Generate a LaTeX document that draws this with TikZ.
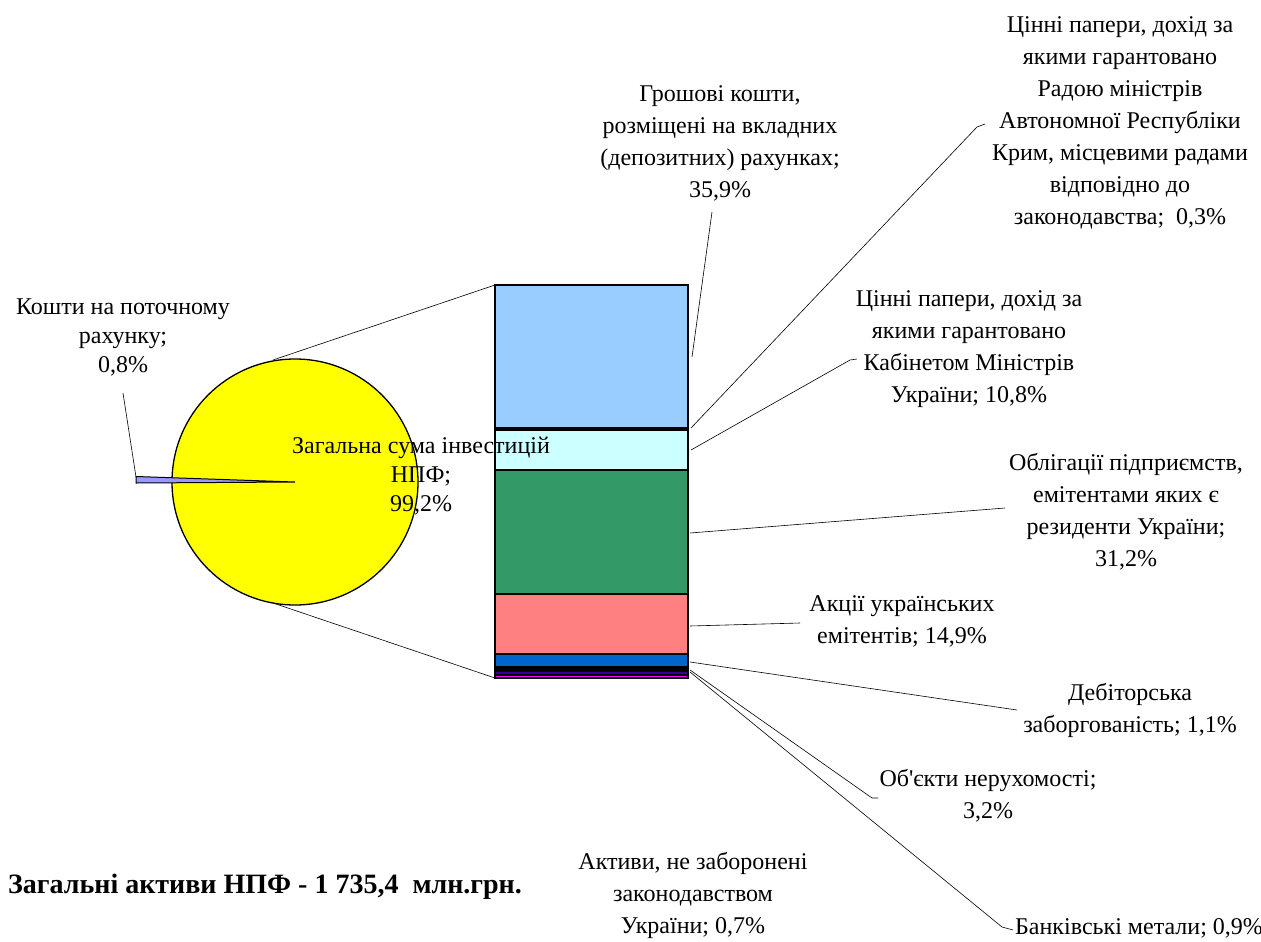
\documentclass[tikz,border=0pt]{standalone}
\usepackage{fontspec}
\setmainfont{Liberation Serif}

\definecolor{pieyellow}{RGB}{255,255,0}
\definecolor{deposit}{HTML}{99CCFF}
\definecolor{govsec}{HTML}{CCFFFF}
\definecolor{bonds}{HTML}{339966}
\definecolor{shares}{HTML}{FF8080}
\definecolor{realty}{HTML}{0066CC}
\definecolor{debts}{HTML}{000000}
\definecolor{otheras}{HTML}{330099}
\definecolor{metals}{HTML}{FF00FF}
\definecolor{cash}{HTML}{9999FF}

\begin{document}
\begin{tikzpicture}[x=1pt, y=-1pt]

\tikzstyle{every node}=[align=center, inner sep=0pt, font=\fontsize{24}{32}\selectfont]
\tikzstyle{pielab}=[font=\fontsize{24}{29}\selectfont]
\tikzstyle{seg}=[draw=black, line width=1.3pt]
\tikzstyle{lead}=[draw=black, line width=0.6pt]

\useasboundingbox (0,0) rectangle (1261,942);

\draw[fill=pieyellow, line width=1.3pt] (295,482) circle (123);
\draw[fill=cash, line width=1pt] (295,482) -- (136,476.5) -- (136,483) -- cycle;

\foreach \ya/\yb/\c in {285/428/deposit, 428/430/black, 430/470/govsec, 470/594/bonds,
    594/654/shares, 654/667/realty, 667/671/debts, 671/675/otheras, 675/678/metals}
  \draw[seg, fill=\c] (495,\ya) rectangle (688,\yb);

\coordinate (ptop) at (273,360);
\coordinate (pbot) at (273,603);
\coordinate (btop) at (495,285);
\coordinate (bbot) at (495,678);
\draw[lead] (ptop) -- (btop);
\draw[lead] (pbot) -- (bbot);

\draw (123,337)  node[pielab] (cashl) {Кошти на поточному\\рахунку;\\0,8\%}
      (421,476)  node[pielab] (piel)  {Загальна сума інвестицій\\НПФ;\\99,2\%}
      (720,143)  node (depl)  {Грошові кошти,\\розміщені на вкладних\\(депозитних) рахунках;\\35,9\%}
      (1120,123) node (criml) {Цінні папери, дохід за\\якими гарантовано\\Радою міністрів\\Автономної Республіки\\Крим, місцевими радами\\відповідно до\\законодавства;~ 0,3\%}
      (969,349)  node (cabl)  {Цінні папери, дохід за\\якими гарантовано\\Кабінетом Міністрів\\України; 10,8\%}
      (1126,512) node (bondl) {Облігації підприємств,\\емітентами яких є\\резиденти України;\\31,2\%}
      (902,621)  node (sharel) {Акції українських\\емітентів; 14,9\%}
      (1130,710) node (debtl) {Дебіторська\\заборгованість; 1,1\%}
      (988,796)  node (realtyl) {Об\textquotesingle єкти нерухомості;\\3,2\%}
      (693,895)  node (otherl) {Активи, не заборонені\\законодавством\\України; 0,7\%}
      (1015,928) node[anchor=west] (metall) {Банківські метали; 0,9\%}
      (8,887)    node[anchor=west, font=\fontsize{28}{33}\selectfont\bfseries] (total) {Загальні активи НПФ - 1 735,4~ млн.грн.};

\coordinate (cashb) at (136,477);
\coordinate (cashe) at (123,393);
\coordinate (depb) at (692,357);
\coordinate (depe) at (712,212);
\coordinate (crimb) at (691,428);
\coordinate (crimk) at (977,127);
\coordinate (crime) at (985,124);
\coordinate (cabb) at (691,450);
\coordinate (cabk) at (850,360);
\coordinate (cabe) at (857,359);
\coordinate (bondb) at (690,533);
\coordinate (bonde) at (1005,508);
\coordinate (shareb) at (690,626);
\coordinate (sharee) at (800,623);
\coordinate (debtb) at (690,662);
\coordinate (debte) at (1017,710);
\coordinate (realtyb) at (690,670);
\coordinate (realtyk) at (872,798);
\coordinate (realtye) at (878,798);
\coordinate (metalb) at (690,672);
\coordinate (metalk) at (1002,927);
\coordinate (metale) at (1013,930);

\draw[lead] (cashb) -- (cashe);
\draw[lead] (depb) -- (depe);
\draw[lead] (crimb) -- (crimk) -- (crime);
\draw[lead] (cabb) -- (cabk) -- (cabe);
\draw[lead] (bondb) -- (bonde);
\draw[lead] (shareb) -- (sharee);
\draw[lead] (debtb) -- (debte);
\draw[lead] (realtyb) -- (realtyk) -- (realtye);
\draw[lead] (metalb) -- (metalk) -- (metale);

\end{tikzpicture}
\end{document}
